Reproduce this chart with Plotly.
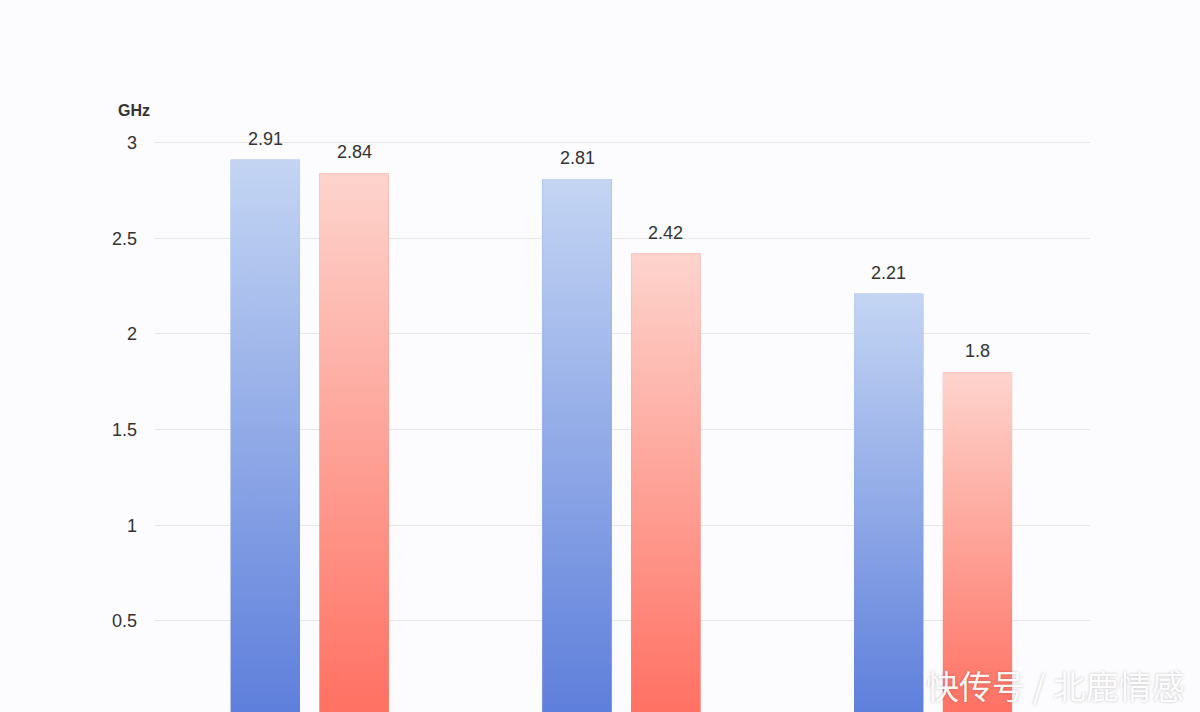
import plotly.graph_objects as go

categories = ["A", "B", "C"]
series_names = ["Series 1", "Series 2"]
blue_values = [2.91, 2.81, 2.21]
red_values = [2.84, 2.42, 1.8]
y_ticks = [0, 0.5, 1, 1.5, 2, 2.5, 3]
y_unit = "GHz"
watermark = "快传号 / 北鹿情感"

BAR_W = 0.222
OFFSETS = [-0.257, 0.028]
GRADS = [
    ("#5d7edb", "#c4d5f3"),
    ("#ff7062", "#fdd4cd"),
]
NUM_FONT = "Liberation Sans, Arial, sans-serif"

fig = go.Figure()
xs = list(range(len(categories)))

for si, vals in enumerate([blue_values, red_values]):
    bottom, top = GRADS[si]
    fig.add_trace(go.Bar(
        x=xs, y=vals, name=series_names[si], width=BAR_W, offset=OFFSETS[si],
        marker=dict(color=bottom, line=dict(width=0)), showlegend=False,
        hoverinfo="y",
    ))
    for xi, v in zip(xs, vals):
        x0 = xi + OFFSETS[si]
        x1 = x0 + BAR_W
        fig.add_trace(go.Scatter(
            x=[x0, x1, x1, x0, x0], y=[0, 0, v, v, 0],
            mode="lines", fill="toself", line=dict(width=0),
            fillgradient=dict(type="vertical",
                              colorscale=[[0, bottom], [1, top]]),
            hoverinfo="skip", showlegend=False,
        ))
        fig.add_annotation(
            x=(x0 + x1) / 2, y=v, text=f"{v:g}", showarrow=False,
            yanchor="bottom", yshift=9,
            font=dict(family=NUM_FONT, size=18, color="#333333"),
        )

fig.add_annotation(
    xref="paper", yref="paper", x=0, y=1, xanchor="right", yanchor="middle",
    xshift=-3, yshift=-6, text=f"<b>{y_unit}</b>", showarrow=False,
    font=dict(family=NUM_FONT, size=16, color="#333333"),
)
fig.add_annotation(
    xref="paper", yref="paper", x=1.104, y=0.044, xanchor="right",
    yanchor="middle", text=watermark, showarrow=False,
    font=dict(family="Noto Sans CJK SC", size=33, color="rgba(255,255,255,0.95)",
              shadow="0px 0px 3px rgba(0,0,0,0.25)"),
)

fig.update_layout(
    width=1200, height=712,
    margin=dict(l=155, r=110, t=104, b=0),
    paper_bgcolor="#fcfbfe", plot_bgcolor="#fcfbfe",
    barmode="overlay",
    xaxis=dict(range=[-0.5, 2.5], showgrid=False, zeroline=False,
               showticklabels=False, showline=False, ticks=""),
    yaxis=dict(range=[0.0235, 3.2017], tickvals=y_ticks,
               ticktext=[f"{t:g}" for t in y_ticks],
               showgrid=True, gridcolor="#e6e6ea", gridwidth=1,
               zeroline=False, showline=False, ticks="",
               ticklabelstandoff=17,
               tickfont=dict(family=NUM_FONT, size=18, color="#333333")),
)

fig.write_html(
    "out.html",
    config={"displayModeBar": False},
    post_script="document.body.style.margin='0';document.body.style.overflow='hidden';document.body.style.background='#fcfbfe';",
)
